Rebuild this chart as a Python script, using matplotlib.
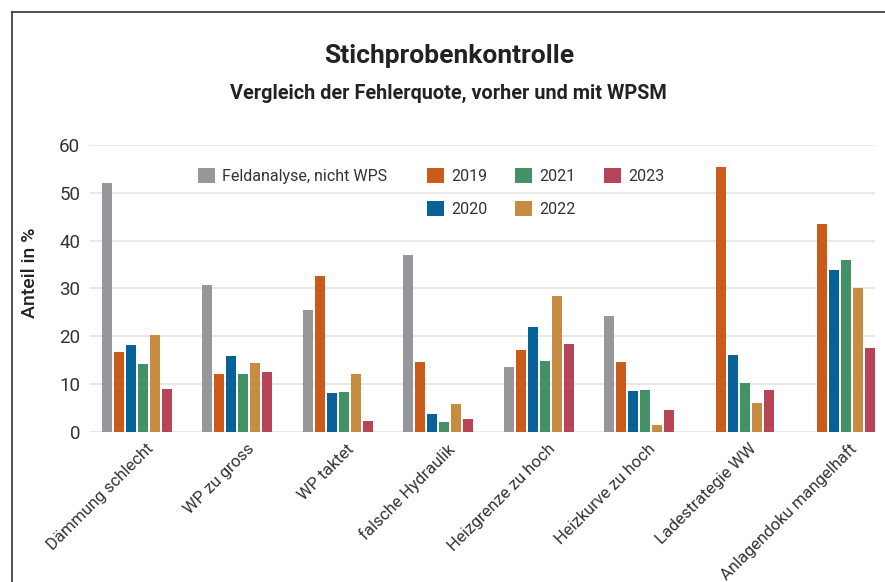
import matplotlib
matplotlib.use("Agg")
import matplotlib.pyplot as plt
import matplotlib.transforms as mtransforms
from matplotlib.patches import Patch
import numpy as np

plt.rcParams['font.family'] = ['Roboto', 'DejaVu Sans']

categories = ["Dämmung schlecht", "WP zu gross", "WP taktet", "falsche Hydraulik",
              "Heizgrenze zu hoch", "Heizkurve zu hoch", "Ladestrategie WW",
              "Anlagendoku mangelhaft"]
series_names = ["Feldanalyse, nicht WPS", "2019", "2020", "2021", "2022", "2023"]
feldanalyse = [52.0, 30.6, 25.4, 36.9, 13.5, 24.2, 0.0, 0.0]
y2019 = [16.6, 12.0, 32.5, 14.5, 17.1, 14.6, 55.3, 43.4]
y2020 = [18.1, 15.8, 8.1, 3.8, 21.9, 8.5, 16.0, 33.8]
y2021 = [14.1, 12.0, 8.3, 2.0, 14.8, 8.7, 10.1, 35.9]
y2022 = [20.2, 14.3, 12.0, 5.7, 28.5, 1.4, 6.0, 30.0]
y2023 = [8.9, 12.4, 2.2, 2.6, 18.3, 4.5, 8.7, 17.5]
yticks = [0, 10, 20, 30, 40, 50, 60]

series = [feldanalyse, y2019, y2020, y2021, y2022, y2023]
colors = ["#96979b", "#cb5b1b", "#07629a", "#449165", "#c58c42", "#b64557"]

W, H = 885, 582
fig = plt.figure(figsize=(W / 100, H / 100), dpi=100)
ax = fig.add_axes([90 / W, 1 - 431.7 / H, (875 - 90) / W, (431.7 - 145) / H])

x = np.arange(len(categories))
step = 0.1195
width = 0.0996
handles = []
for i, (vals, c, name) in enumerate(zip(series, colors, series_names)):
    ax.bar(x + (i - 2.5) * step, vals, width=width, color=c, zorder=3, linewidth=0)
    handles.append(Patch(facecolor=c, edgecolor='none', label=name))

ax.set_xlim(-0.468, 7.35)
ax.set_ylim(0, 60)
ax.set_yticks(yticks)
ax.set_yticklabels([str(t) for t in yticks], fontsize=13.5, color="#333333")
ax.tick_params(axis='y', length=0, pad=7)
ax.tick_params(axis='x', length=0, pad=4)
ax.grid(axis='y', color="#e8e8e8", linewidth=1.5, zorder=0)
ax.set_axisbelow(True)
for s in ax.spines.values():
    s.set_visible(False)

ax.set_xticks(x)
offset = mtransforms.ScaledTranslation(9 / 100, -4 / 100, fig.dpi_scale_trans)
ax.set_xticklabels(categories, rotation=45, ha='right', va='top',
                   rotation_mode='anchor', fontsize=12, color="#333333")
for lab in ax.get_xticklabels():
    lab.set_transform(lab.get_transform() + offset)

leg_kw = dict(frameon=False, fontsize=11.5, handlelength=1.06, handleheight=1.06,
              handletextpad=0.45, columnspacing=1.75, labelspacing=1.1,
              borderpad=0, borderaxespad=0, loc='upper left')

leg1 = fig.legend([handles[0]], [series_names[0]], ncol=1,
                  bbox_to_anchor=(198 / W, 1 - 168 / H), **leg_kw)
leg2 = fig.legend(handles[1:], series_names[1:], ncol=3,
                  bbox_to_anchor=(427 / W, 1 - 168 / H), **leg_kw)
for lg in (leg1, leg2):
    for t in lg.get_texts():
        t.set_color("#333333")

fig.text(449 / W, 1 - 63 / H, "Stichprobenkontrolle", ha='center', va='baseline',
         fontsize=19, fontweight='bold', color="#222222")
fig.text(448 / W, 1 - 99 / H, "Vergleich der Fehlerquote, vorher und mit WPSM",
         ha='center', va='baseline', fontsize=14.3, fontweight='bold', color="#222222")
fig.text(30 / W, 1 - 273 / H, "Anteil in %", rotation=90, ha='center', va='center',
         fontsize=14, fontweight='medium', color="#222222")

# outer frame (left and top edges visible)
fig.add_artist(plt.Line2D([12 / W, 12 / W], [0, 1 - 11.5 / H], transform=fig.transFigure,
                          color="#333333", linewidth=1.2))
fig.add_artist(plt.Line2D([12 / W, 1], [1 - 11.5 / H, 1 - 11.5 / H], transform=fig.transFigure,
                          color="#333333", linewidth=1.2))

fig.savefig("out.png", dpi=100)
